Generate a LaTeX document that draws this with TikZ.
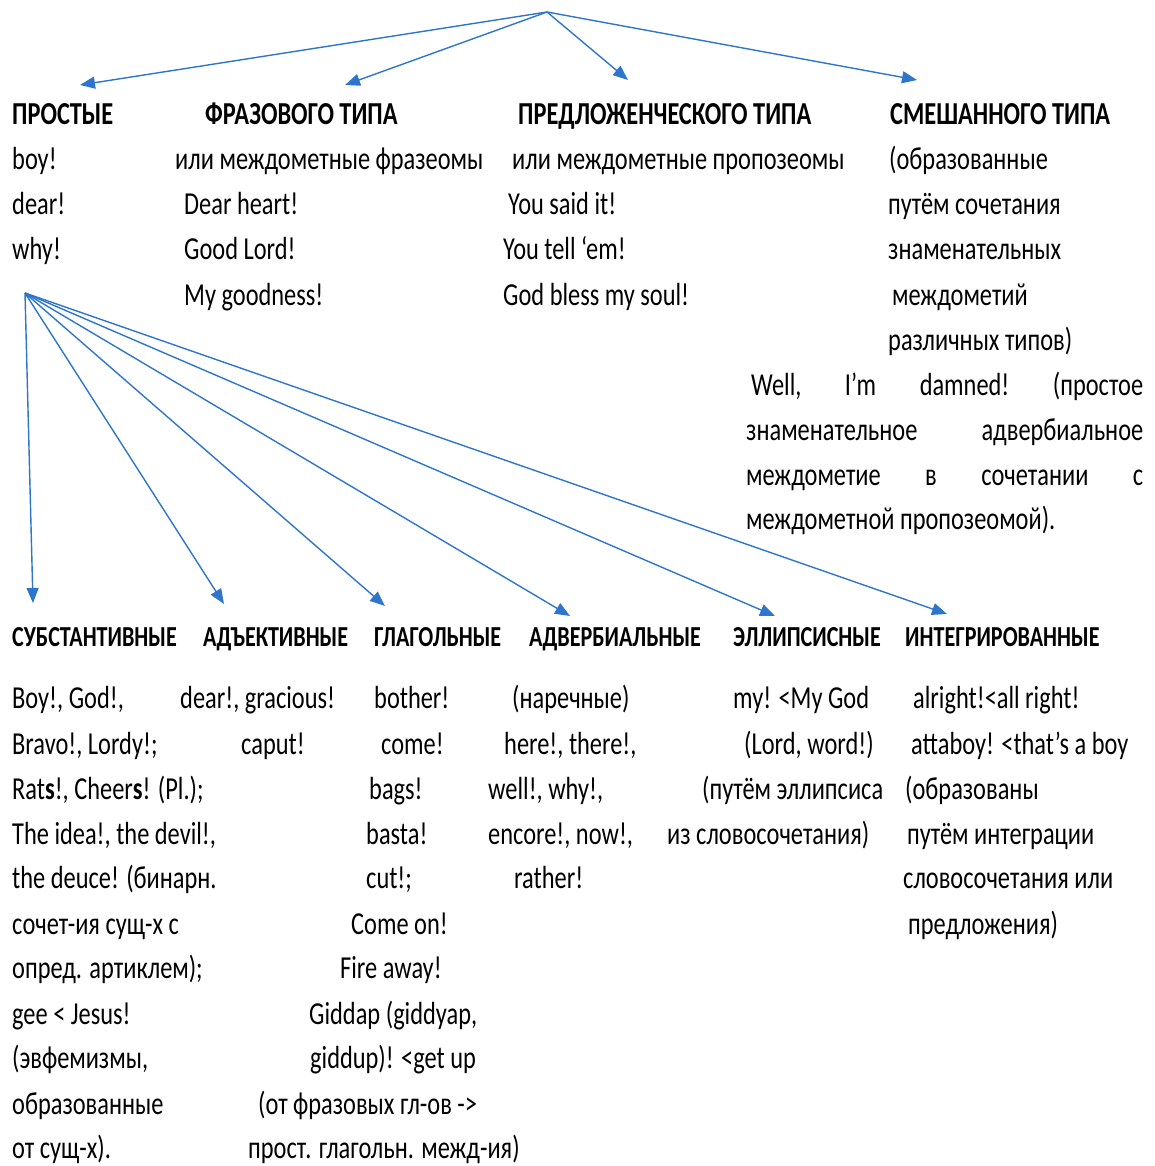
\documentclass[tikz,border=0pt]{standalone}
\usepackage{fontspec}
\setmainfont{Carlito}[FakeStretch=0.762]
\usetikzlibrary{arrows.meta}
\definecolor{arrblue}{RGB}{46,117,204}
\tikzset{
  tx/.style={anchor=base west, inner sep=0pt, font=\fontsize{32}{38}\selectfont},
  hd/.style={anchor=base west, inner sep=0pt, font=\fontsize{32}{38}\selectfont\bfseries},
  hdb/.style={anchor=base west, inner sep=0pt, font=\fontsize{29}{35}\selectfont\bfseries},
  arr/.style={draw=arrblue, line width=1.4pt, -{Triangle[length=15pt,width=12pt]}}
}
\begin{document}
\begin{tikzpicture}[x=1pt,y=-1pt]
\useasboundingbox (0,0) rectangle (1154,1166);
% top fan
\coordinate (o1) at (547,12);
\coordinate (t1) at (80,85);
\coordinate (t2) at (345,85);
\coordinate (t3) at (628,80);
\coordinate (t4) at (917,80);
\draw[arr] (o1) -- (t1);
\draw[arr] (o1) -- (t2);
\draw[arr] (o1) -- (t3);
\draw[arr] (o1) -- (t4);
% top headings
\node[hd] (h1) at (12,125) {ПРОСТЫЕ};
\node[hd] (h2) at (205,125) {ФРАЗОВОГО ТИПА};
\node[hd] (h3) at (518,125) {ПРЕДЛОЖЕНЧЕСКОГО ТИПА};
\node[hd] (h4) at (890,125) {СМЕШАННОГО ТИПА};
% column 1
\node[tx] (a1) at (12,170) {boy!};
\node[tx] (a2) at (12,215) {dear!};
\node[tx] (a3) at (12,259) {why!};
% column 2
\node[tx] (b1) at (175,170) {или междометные фразеомы};
\node[tx] (b2) at (184,215) {Dear heart!};
\node[tx] (b3) at (184,259) {Good Lord!};
\node[tx] (b4) at (184,305) {My goodness!};
% column 3
\node[tx] (c1) at (512,170) {или междометные пропозеомы};
\node[tx] (c2) at (508,215) {You said it!};
\node[tx] (c3) at (503,259) {You tell ‘em!};
\node[tx] (c4) at (503,305) {God bless my soul!};
% column 4
\node[tx] (d1) at (889,170) {(образованные};
\node[tx] (d2) at (888,215) {путём сочетания};
\node[tx] (d3) at (888,259) {знаменательных};
\node[tx] (d4) at (892,305) {междометий};
\node[tx] (d5) at (888,350) {различных типов)};
% paragraph
\node[tx] (p1) at (751,395) {\makebox[392pt][l]{Well,\hfill I’m\hfill damned!\hfill (простое}};
\node[tx] (p2) at (746,440) {\makebox[397pt][l]{знаменательное\hfill адвербиальное}};
\node[tx] (p3) at (746,485) {\makebox[397pt][l]{междометие\hfill в\hfill сочетании\hfill с}};
\node[tx] (p4) at (746,529) {междометной пропозеомой).};
% bottom fan
\coordinate (o2) at (25,293);
\coordinate (s1) at (33,603);
\coordinate (s2) at (224,604);
\coordinate (s3) at (385,606);
\coordinate (s4) at (570,616);
\coordinate (s5) at (775,616);
\coordinate (s6) at (947,614);
\draw[arr] (o2) -- (s1);
\draw[arr] (o2) -- (s2);
\draw[arr] (o2) -- (s3);
\draw[arr] (o2) -- (s4);
\draw[arr] (o2) -- (s5);
\draw[arr] (o2) -- (s6);
% bottom headings
\node[hdb] (g1) at (12,646) {СУБСТАНТИВНЫЕ};
\node[hdb] (g2) at (203,646) {АДЪЕКТИВНЫЕ};
\node[hdb] (g3) at (374,646) {ГЛАГОЛЬНЫЕ};
\node[hdb] (g4) at (529,646) {АДВЕРБИАЛЬНЫЕ};
\node[hdb] (g5) at (733,646) {ЭЛЛИПСИСНЫЕ};
\node[hdb] (g6) at (905,646) {ИНТЕГРИРОВАННЫЕ};
% bottom col 1
\node[tx] (e1) at (12,708) {Boy!, God!,};
\node[tx] (e2) at (12,754) {Bravo!, Lordy!;};
\node[tx] (e3) at (12,799) {Rat\textbf{s}!, Cheer\textbf{s}! (Pl.);};
\node[tx] (e4) at (12,844) {The idea!, the devil!,};
\node[tx] (e5) at (12,888) {the deuce! (бинарн.};
\node[tx] (e6) at (12,934) {сочет-ия сущ-х с};
\node[tx] (e7) at (12,978) {опред. артиклем);};
\node[tx] (e8) at (12,1024) {gee < Jesus!};
\node[tx] (e9) at (12,1068) {(эвфемизмы,};
\node[tx] (e10) at (12,1114) {образованные};
\node[tx] (e11) at (12,1158) {от сущ-х).};
% bottom col 2
\node[tx] (f1) at (180,708) {dear!, gracious!};
\node[tx] (f2) at (241,754) {caput!};
% bottom col 3
\node[tx] (k1) at (374,708) {bother!};
\node[tx] (k2) at (381,754) {come!};
\node[tx] (k3) at (369,799) {bags!};
\node[tx] (k4) at (366,844) {basta!};
\node[tx] (k5) at (366,888) {cut!;};
\node[tx] (k6) at (351,934) {Come on!};
\node[tx] (k7) at (340,978) {Fire away!};
\node[tx] (k8) at (309,1024) {Giddap (giddyap,};
\node[tx] (k9) at (310,1068) {giddup)! <get up};
\node[tx] (k10) at (258,1114) {(от фразовых гл-ов ->};
\node[tx] (k11) at (248,1158) {прост. глагольн. межд-ия)};
% bottom col 4
\node[tx] (m1) at (512,708) {(наречные)};
\node[tx] (m2) at (504,754) {here!, there!,};
\node[tx] (m3) at (488,799) {well!, why!,};
\node[tx] (m4) at (488,844) {encore!, now!,};
\node[tx] (m5) at (514,888) {rather!};
% bottom col 5
\node[tx] (n1) at (733,708) {my! <My God};
\node[tx] (n2) at (744,754) {(Lord, word!)};
\node[tx] (n3) at (702,799) {(путём эллипсиса};
\node[tx] (n4) at (667,844) {из словосочетания)};
% bottom col 6
\node[tx] (q1) at (913,708) {alright!<all right!};
\node[tx] (q2) at (911,754) {attaboy! <that’s a boy};
\node[tx] (q3) at (905,799) {(образованы};
\node[tx] (q4) at (907,844) {путём интеграции};
\node[tx] (q5) at (903,888) {словосочетания или};
\node[tx] (q6) at (908,934) {предложения)};
\end{tikzpicture}
\end{document}
